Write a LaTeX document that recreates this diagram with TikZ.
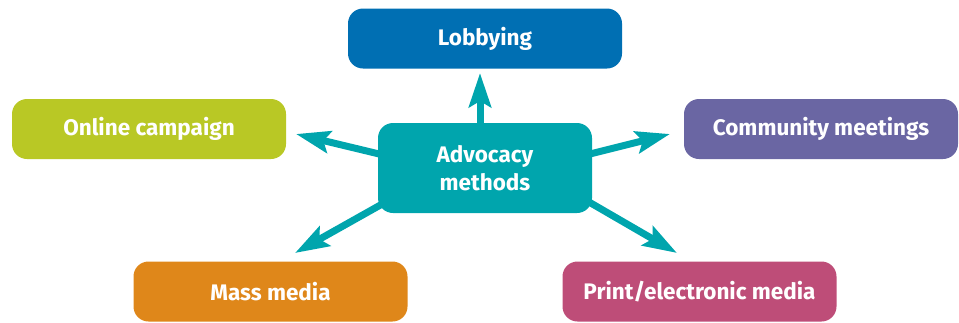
\documentclass[tikz,border=0pt]{standalone}
\usepackage{fontspec}
\setmainfont{Fira Sans}
\usetikzlibrary{calc,arrows.meta,backgrounds}
\definecolor{lobbyblue}{HTML}{006FB3}
\definecolor{hubteal}{HTML}{00A5AD}
\definecolor{onlinegreen}{HTML}{B9C825}
\definecolor{communpurple}{HTML}{6A66A3}
\definecolor{massorange}{HTML}{DF871A}
\definecolor{printpink}{HTML}{BE4D78}
\def\boxw{274}
\def\boxh{60}

\begin{document}
\begin{tikzpicture}[x=1pt,y=-1pt,
  method/.style={rounded corners=15pt,minimum width=\boxw pt,minimum height=\boxh pt,
    inner sep=0pt,text=white,align=center,font=\bfseries\fontsize{22.5}{28}\selectfont},
  spoke/.style={draw=hubteal,line width=7pt,-{Stealth[length=34pt,width=22pt,inset=6pt]}}]
\useasboundingbox (0,0) rectangle (959,322);
\node[method,fill=lobbyblue] (lobby) at (485,38.5) {Lobbying};
\node[method,fill=hubteal,minimum width=214pt,minimum height=90pt] (hub) at (485,168) {Advocacy\\methods};
\node[method,fill=onlinegreen] (online) at (149,129) {Online campaign};
\node[method,fill=communpurple] (commun) at (821,129) {Community meetings};
\node[method,fill=massorange] (mass) at (270.5,291.5) {Mass media};
\node[method,fill=printpink] (print) at (699.5,291.5) {Print/electronic media};
\begin{scope}[on background layer]
\foreach \n/\sx/\sy/\tx/\ty in {up/-5/-18/480/73, ul/-85/-9/296/134, ur/85/-9/670/134,
    dl/-85/26/295/253, dr/85/23/677/253} {
  \coordinate (tip-\n) at (\tx,\ty);
  \draw[spoke] ($(hub.center)+(\sx,\sy)$) -- (tip-\n);
}
\end{scope}
\end{tikzpicture}
\end{document}
